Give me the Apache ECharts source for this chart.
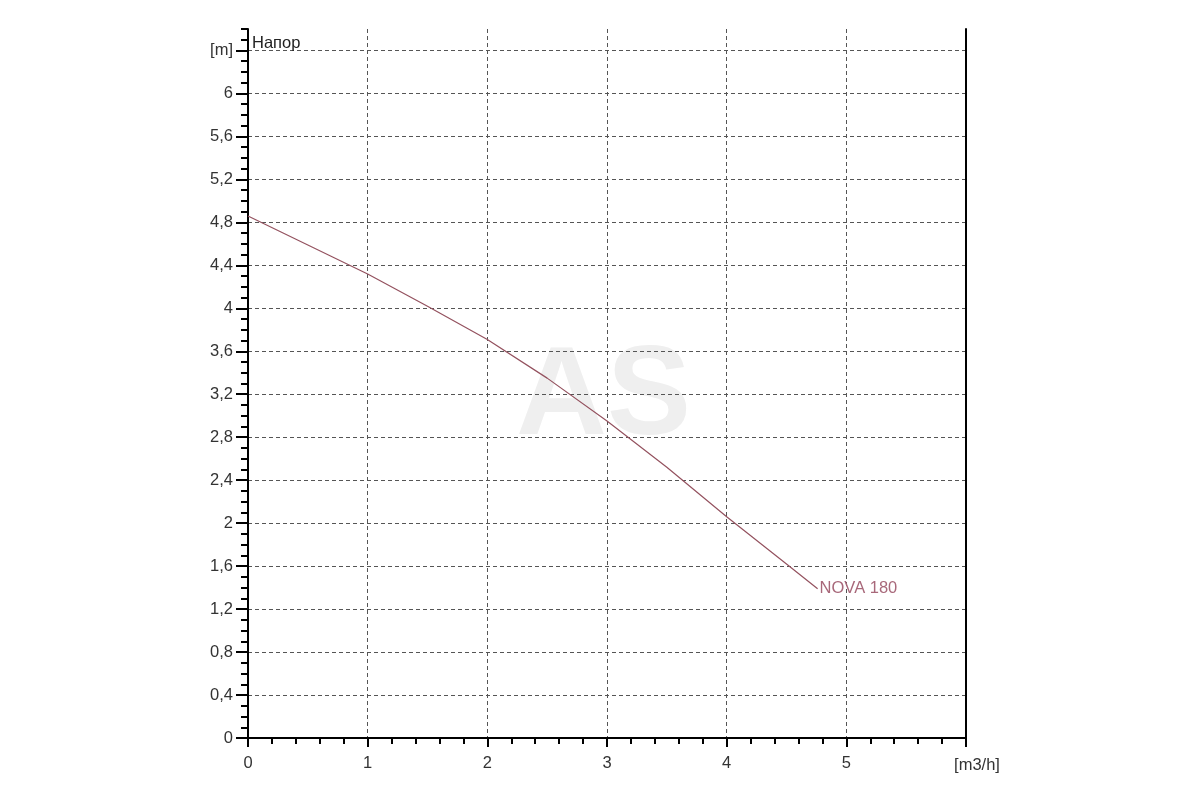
<!DOCTYPE html>
<html>
<head>
<meta charset="utf-8">
<script src="https://cdn.jsdelivr.net/npm/echarts@6/dist/echarts.min.js"></script>
<style>html,body{margin:0;padding:0;background:#fff;}#c{width:1200px;height:800px;}</style>
</head>
<body>
<div id="c"></div>
<script>
var flowX = [0, 0.5, 1, 1.5, 2, 2.5, 3, 3.5, 4, 4.5, 4.76];
var headY = [4.86, 4.59, 4.32, 4.02, 3.71, 3.35, 2.95, 2.52, 2.06, 1.62, 1.39];
var seriesName = 'NOVA 180';
var yTitle = 'Напор';
var yUnit = '[m]';
var xUnit = '[m3/h]';
var watermark = 'AS';

var FONT = 'Liberation Sans, Arial, sans-serif';
var chart = echarts.init(document.getElementById('c'), null, {renderer: 'canvas'});
var gridColors = [];
for (var i = 0; i < 17; i++) gridColors.push('#555');
gridColors.push('rgba(0,0,0,0)');

var option = {
  backgroundColor: '#fff',
  animation: false,
  grid: {left: 248, right: 234, top: 29, bottom: 62, containLabel: false},
  graphic: [
    {type: 'text', left: 516, top: 336, z: -10, silent: true,
     style: {text: watermark, font: 'bold 126px ' + FONT, fill: '#efefef'}},
    {type: 'text', left: 252, top: 35, z: 10,
     style: {text: yTitle, font: '16.5px ' + FONT, fill: '#222'}}
  ],
  xAxis: {
    type: 'value', min: 0, max: 6, interval: 1,
    axisLine: {show: true, onZero: false, lineStyle: {color: '#000', width: 2}},
    axisTick: {show: true, length: 9, lineStyle: {color: '#000', width: 2}},
    minorTick: {show: true, splitNumber: 5, length: 6, lineStyle: {color: '#000', width: 2}},
    axisLabel: {
      color: '#333', fontFamily: FONT, fontSize: 16.5, margin: 17,
      formatter: function (v) { return v === 6 ? '{u|' + xUnit + '}' : String(v); },
      rich: {u: {color: '#333', fontFamily: FONT, fontSize: 16.5, padding: [2, 0, 0, 22]}}
    },
    splitLine: {show: true, lineStyle: {color: ['#555','#555','#555','#555','#555','#555','rgba(0,0,0,0)'], type: [4, 3], width: 1}}
  },
  yAxis: [
    {
      type: 'value', min: 0, max: 6.6, interval: 0.4, position: 'left',
      axisLine: {show: true, onZero: false, lineStyle: {color: '#000', width: 2}},
      axisTick: {show: true, length: 12, lineStyle: {color: '#000', width: 2}},
      axisLabel: {
        color: '#333', fontFamily: FONT, fontSize: 16.5, margin: 15,
        showMaxLabel: false,
        formatter: function (v) {
          var r = Math.round(v * 10) / 10;
          if (Math.abs(r - 6.4) < 1e-6) return yUnit;
          if (Math.abs(r - 6.6) < 1e-6) return '';
          return String(r).replace('.', ',');
        }
      },
      splitLine: {show: true, lineStyle: {color: gridColors, type: [4, 3], width: 1}}
    },
    {
      type: 'value', min: 0, max: 6.6, interval: 0.1, position: 'left',
      axisLine: {show: false},
      axisTick: {show: true, length: 7, lineStyle: {color: '#000', width: 2}},
      axisLabel: {show: false},
      splitLine: {show: false}
    },
    {
      type: 'value', min: 0, max: 6.6, interval: 0.4, position: 'right',
      axisLine: {show: true, onZero: false, lineStyle: {color: '#000', width: 2}},
      axisTick: {show: false},
      axisLabel: {show: false},
      splitLine: {show: false}
    }
  ],
  series: [{
    name: seriesName,
    type: 'line',
    yAxisIndex: 0,
    data: flowX.map(function (x, i) { return [x, headY[i]]; }),
    showSymbol: false,
    smooth: false,
    z: 5,
    lineStyle: {color: '#94525f', width: 1.2},
    endLabel: {
      show: true, formatter: seriesName, distance: 2,
      color: '#a8687a', fontFamily: FONT, fontSize: 16.5
    }
  }]
};
chart.setOption(option);
</script>
</body>
</html>
